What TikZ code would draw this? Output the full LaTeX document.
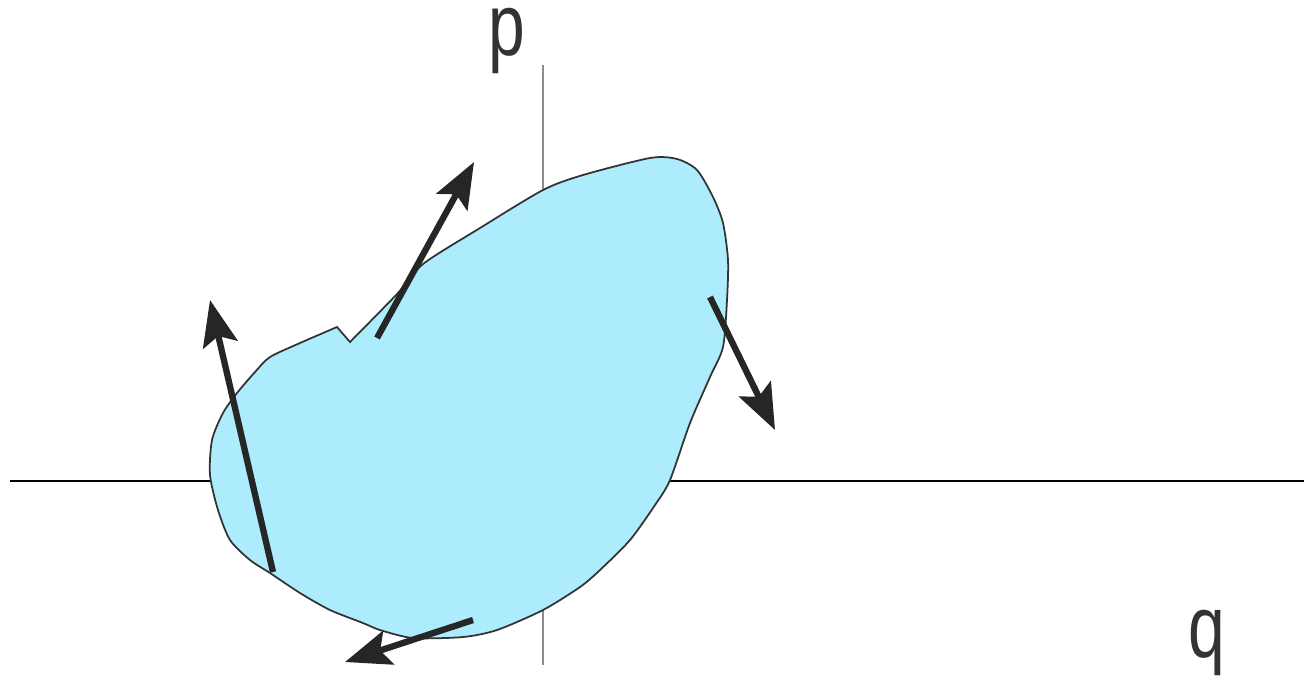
\documentclass[tikz,border=0pt]{standalone}
\usepackage{fontspec}
\setmainfont{Liberation Sans}
\usepackage{graphicx}
\usetikzlibrary{arrows.meta}
\definecolor{phaseblue}{RGB}{172,236,252}
\tikzset{
  vec/.style={line width=1.8pt,draw=black!85,-{Stealth[length=13pt,width=10pt,inset=2.5pt]}},
  axislabel/.style={anchor=base,inner sep=0pt,text height=13pt,text depth=5pt,
    text=black!80,font=\fontsize{25}{25}\selectfont}
}
\begin{document}
\begin{tikzpicture}[x=0.01cm,y=-0.01cm]
  \useasboundingbox (0,0) rectangle (1304,675);
  % axes
  \draw[black,line width=0.5pt] (10,481) -- (1304,481);
  \draw[black!45,line width=0.4pt] (543,65) -- (543,665);
  \node[axislabel] (p) at (507,55) {\scalebox{0.75}[1]{p}};
  \node[axislabel] (q) at (1207,657) {\scalebox{0.75}[1]{q}};
  % region in phase space
  \filldraw[fill=phaseblue,draw=black!80,line width=0.5pt]
    (350,342) -- plot[smooth,tension=0.45] coordinates {
      (350,342) (397,294) (423,264) (480,228) (543,190) (583,175)
      (650,158) (677,159) (697,170) (713,197) (723,223) (728,260)
      (727,300) (723,347) (710,377) (690,423) (670,480) (655,505)
      (630,540) (600,570) (580,587) (543,610) (497,630) (463,637)
      (413,638) (380,630) (363,623) (330,610) (300,593) (270,573)
      (250,560) (230,540) (218,510) (210,475) (212,440) (223,413)
      (237,393) (255,372) (270,357) (300,343) (337,327)} -- cycle;
  % velocity vectors on the boundary
  \coordinate (a1) at (273,572); \coordinate (b1) at (210,300);
  \coordinate (a2) at (377,338); \coordinate (b2) at (474,162);
  \coordinate (a3) at (710,297); \coordinate (b3) at (775,430);
  \coordinate (a4) at (473,620); \coordinate (b4) at (345,662);
  \foreach \i in {1,...,4}
    \draw[vec] (a\i) -- (b\i);
\end{tikzpicture}
\end{document}
